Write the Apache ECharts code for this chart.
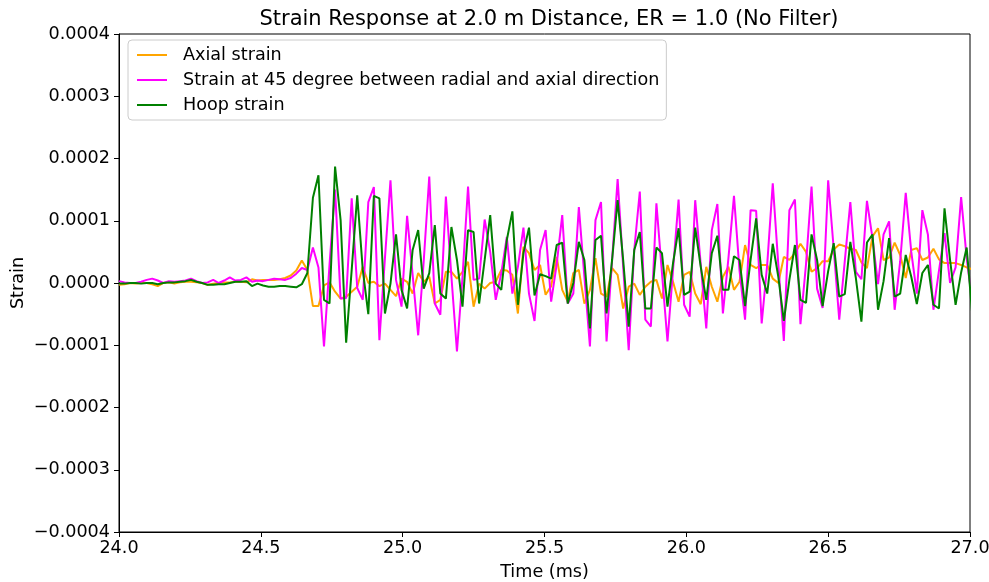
<!DOCTYPE html>
<html>
<head>
<meta charset="utf-8">
<script src="https://cdn.jsdelivr.net/npm/echarts@6/dist/echarts.min.js"></script>
<style>
html,body{margin:0;padding:0;background:#fff;}
#chart{width:989px;height:582px;}
</style>
</head>
<body>
<div id="chart"></div>
<script>
// Sampling grid (ms): 51.2 kHz sampling starting at 24.0 ms
const startTime = 24.0;
const sampleStep = 1 / 51.2;

// Strain values in units of 1e-4
const axialStrainE4 = [
-0.03,-0.02,0,-0.01,0,0,-0.02,-0.05,0,0.01,
-0.01,0.01,0.02,0.02,0.01,0,-0.03,-0.01,0,0.01,
0.01,0.02,0.02,0.01,0.06,0.04,0.05,0.05,0.05,0.06,
0.08,0.12,0.2,0.36,0.21,-0.37,-0.37,-0.04,0.01,-0.14,
-0.25,-0.22,-0.14,-0.06,0.26,0,0.02,-0.05,-0.01,-0.11,
-0.21,0.07,0.02,-0.17,0.16,0.02,0.1,-0.33,-0.27,0.18,
0.18,0.07,0.18,0.34,-0.38,-0.01,-0.09,0,0.02,0.21,
0.2,0.13,-0.49,0.58,0.48,0.21,0.29,-0.19,-0.05,0.42,
-0.11,-0.3,0.16,0.21,-0.33,-0.11,0.4,-0.17,-0.22,0.24,
0.13,-0.41,-0.06,-0.01,-0.19,-0.06,0.02,0.05,-0.25,0.29,
0.02,-0.3,0.13,0.18,-0.17,-0.34,0.26,-0.06,-0.3,0.1,
0.26,-0.11,0.02,0.61,0.29,0.24,0.29,0.29,0.07,0,
0.42,0.37,0.48,0.63,0.5,0.18,0.24,0.35,0.35,0.54,
0.62,0.59,0.55,0.53,0.33,0.24,0.75,0.88,0.37,0.41,
0.65,0.45,0.08,0.53,0.56,0.37,0.41,0.55,0.38,0.32,
0.32,0.32,0.29,0.25,0.22
];
const diag45StrainE4 = [
0.03,0.01,0,0,0.02,0.05,0.07,0.04,0,0.03,
0.02,0.03,0.04,0.07,0.03,0,0.01,0.05,0,0.04,
0.09,0.04,0.05,0.09,0.02,0.04,0.03,0.05,0.07,0.06,
0.05,0.08,0.15,0.24,0.21,0.57,0.25,-1.02,0.3,1.5,
-0.25,-0.24,1.36,-0.08,-0.27,1.3,1.54,-0.92,0.4,1.65,
0.05,-0.38,1.08,0.13,-0.84,0.35,1.71,-0.33,-0.51,1.39,
0.1,-1.1,0.1,1.55,0.05,0.07,1.02,0.5,-0.27,0.16,
0.74,-0.17,0.26,0.89,-0.17,-0.61,0.53,0.85,-0.3,0.3,
1.09,-0.33,-0.17,1.22,0.1,-1.02,1.01,1.3,-0.94,0.37,
1.67,0.26,-1.08,0.53,1.47,-0.59,-0.7,1.28,0.16,-0.94,
0.21,1.34,-0.35,-0.54,1.33,0.3,-0.73,0.85,1.27,-0.49,
0.4,1.4,0.2,-0.59,1.17,1.16,-0.65,0.3,1.6,0.3,
-0.93,1.17,1.34,-0.66,0.3,1.55,-0.09,-0.4,1.65,0.55,
-0.59,0.35,1.3,0.18,0.06,1.32,0.72,-0.02,0.78,0.99,
-0.43,0.35,1.45,0.5,-0.17,1.17,0.78,-0.43,0.2,0.8,
0,0.25,1.38,0.4,-0.3
];
const hoopStrainE4 = [
-0.01,-0.01,0,0,-0.01,0,0,-0.02,0,0.01,
0.01,0.02,0.03,0.05,0.02,0,-0.03,-0.03,-0.02,-0.02,
0,0.02,0.02,0.03,-0.05,-0.01,-0.04,-0.06,-0.06,-0.05,
-0.05,-0.06,-0.07,-0.02,0.16,1.37,1.73,-0.27,-0.33,1.87,
1.01,-0.96,0.21,1.41,0.21,-0.5,1.4,1.36,-0.49,-0.01,
0.78,-0.11,-0.41,0.53,0.85,-0.09,0.16,0.93,-0.17,-0.25,
0.9,0.37,-0.38,0.85,0.82,-0.33,0.37,1.09,-0.01,-0.11,
0.69,1.15,-0.35,0.48,0.89,-0.2,0.14,0.11,0.07,0.61,
0.65,-0.33,0,0.66,0.37,-0.73,0.69,0.76,-0.49,0.37,
1.33,0.37,-0.7,0.53,0.82,-0.41,-0.41,0.57,0.48,-0.38,
0.32,0.88,-0.19,-0.14,0.89,0.26,-0.27,0.48,0.76,-0.11,
-0.11,0.43,0.37,-0.37,0.37,1.04,0.13,-0.17,0.63,0.1,
-0.61,0.05,0.61,-0.27,-0.32,0.78,0.37,-0.37,0.19,0.64,
-0.22,-0.18,0.66,0.08,-0.62,0.65,0.78,-0.43,0.03,0.72,
-0.22,-0.17,0.45,0.1,-0.34,0.16,0.29,-0.35,-0.41,1.2,
0.37,-0.35,0.17,0.57,-0.5
];

const seriesNames = [
  'Axial strain',
  'Strain at 45 degree between radial and axial direction',
  'Hoop strain'
];
const seriesColors = ['#FFA500', '#FF00FF', '#008000'];
const xTicks = [24.0, 24.5, 25.0, 25.5, 26.0, 26.5, 27.0];
const yTicks = [-0.0004, -0.0003, -0.0002, -0.0001, 0, 0.0001, 0.0002, 0.0003, 0.0004];

function toPairs(arr) {
  return arr.map((v, i) => [startTime + i * sampleStep, v * 1e-4]);
}

const font = 'DejaVu Sans';
const tickFont = 17.6;

const chart = echarts.init(document.getElementById('chart'), null, {renderer: 'canvas'});
chart.setOption({
  animation: false,
  backgroundColor: '#ffffff',
  title: {
    text: 'Strain Response at 2.0 m Distance, ER = 1.0 (No Filter)',
    left: 544,
    top: 4,
    textAlign: 'center',
    textStyle: {fontFamily: font, fontSize: 21, fontWeight: 'normal', color: '#000'}
  },
  legend: {
    orient: 'vertical',
    left: 128,
    top: 40,
    padding: [5, 7, 5, 9],
    itemGap: 5,
    itemWidth: 30,
    itemHeight: 2,
    icon: 'rect',
    backgroundColor: 'rgba(255,255,255,0.8)',
    borderColor: '#cccccc',
    borderWidth: 1,
    borderRadius: 4,
    textStyle: {fontFamily: font, fontSize: tickFont, color: '#000', lineHeight: 20, padding: [0, 0, 0, 11]},
    data: seriesNames
  },
  grid: {
    left: 119, top: 34, width: 851, height: 498,
    outerBoundsMode: 'none',
    containLabel: false,
    show: true, borderColor: '#000', borderWidth: 1, backgroundColor: 'transparent'
  },
  xAxis: {
    type: 'value',
    min: xTicks[0], max: xTicks[xTicks.length - 1], interval: 0.5,
    name: 'Time (ms)',
    nameLocation: 'middle',
    nameGap: 31,
    nameMoveOverlap: false,
    nameTextStyle: {fontFamily: font, fontSize: tickFont, color: '#000'},
    axisLine: {show: true, onZero: false, lineStyle: {color: '#000', width: 1}},
    axisTick: {show: true, inside: false, length: 5, lineStyle: {color: '#000'}},
    splitLine: {show: false},
    axisLabel: {
      fontFamily: font, fontSize: tickFont, color: '#000', margin: 7,
      formatter: v => v.toFixed(1)
    }
  },
  yAxis: {
    type: 'value',
    min: yTicks[0], max: yTicks[yTicks.length - 1], interval: 0.0001,
    name: 'Strain',
    nameLocation: 'middle',
    nameGap: 92,
    nameMoveOverlap: false,
    nameTextStyle: {fontFamily: font, fontSize: tickFont, color: '#000'},
    axisLine: {show: true, onZero: false, lineStyle: {color: '#000', width: 1}},
    axisTick: {show: true, inside: false, length: 5, lineStyle: {color: '#000'}},
    splitLine: {show: false},
    axisLabel: {
      fontFamily: font, fontSize: tickFont, color: '#000', margin: 9,
      formatter: v => {
        if (Math.abs(v) < 1e-12) return '0.0000';
        const s = Math.abs(v).toFixed(4);
        return v < 0 ? '\u2212' + s : s;
      }
    }
  },
  series: [
    {name: seriesNames[0], type: 'line', data: toPairs(axialStrainE4), showSymbol: false,
     lineStyle: {color: seriesColors[0], width: 2}, itemStyle: {color: seriesColors[0]}, clip: true},
    {name: seriesNames[1], type: 'line', data: toPairs(diag45StrainE4), showSymbol: false,
     lineStyle: {color: seriesColors[1], width: 2}, itemStyle: {color: seriesColors[1]}, clip: true},
    {name: seriesNames[2], type: 'line', data: toPairs(hoopStrainE4), showSymbol: false,
     lineStyle: {color: seriesColors[2], width: 2}, itemStyle: {color: seriesColors[2]}, clip: true}
  ]
});
</script>
</body>
</html>
